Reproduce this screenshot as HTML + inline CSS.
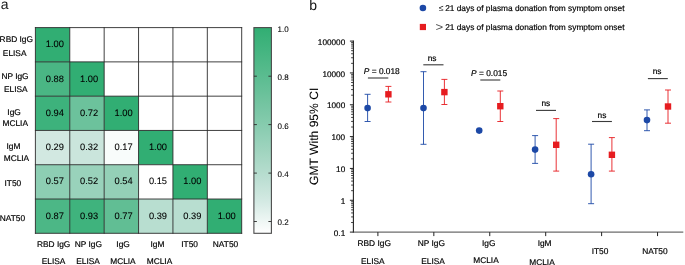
<!DOCTYPE html>
<html lang="en">
<head>
<meta charset="utf-8">
<title>Figure</title>
<style>
html,body{margin:0;padding:0;background:#fff;}
body{width:685px;height:265px;overflow:hidden;}
svg{display:block;font-family:'Liberation Sans', Arial, Helvetica, sans-serif;}
text{stroke:#000;stroke-width:0.18px;stroke-linejoin:round;}
.nst,.nst text{stroke:none;}
.cv text{stroke-width:0.08px;}
.yl{stroke-width:0.05px;}
</style>
</head>
<body>
<svg width="685" height="265" viewBox="0 0 685 265" font-family='"Liberation Sans", Arial, Helvetica, sans-serif' text-rendering="geometricPrecision">
<defs>
<linearGradient id="cb" x1="0" y1="0" x2="0" y2="1">
<stop offset="0.00" stop-color="#31ae73"/>
<stop offset="0.05" stop-color="#3ab179"/>
<stop offset="0.10" stop-color="#42b47f"/>
<stop offset="0.15" stop-color="#4bb785"/>
<stop offset="0.20" stop-color="#54ba8b"/>
<stop offset="0.25" stop-color="#5dbd92"/>
<stop offset="0.30" stop-color="#66c098"/>
<stop offset="0.35" stop-color="#70c39e"/>
<stop offset="0.40" stop-color="#79c6a5"/>
<stop offset="0.45" stop-color="#82caab"/>
<stop offset="0.50" stop-color="#8ccdb2"/>
<stop offset="0.55" stop-color="#96d1b9"/>
<stop offset="0.60" stop-color="#a0d4bf"/>
<stop offset="0.65" stop-color="#aad8c6"/>
<stop offset="0.70" stop-color="#b4dccd"/>
<stop offset="0.75" stop-color="#bfe0d5"/>
<stop offset="0.80" stop-color="#cae5dc"/>
<stop offset="0.85" stop-color="#d5eae4"/>
<stop offset="0.90" stop-color="#e3f1ed"/>
<stop offset="0.95" stop-color="#f1f8f6"/>
<stop offset="1.00" stop-color="#ffffff"/>
</linearGradient>
</defs>
<rect width="685" height="265" fill="#fff"/>
<g id="heatmap">
<rect x="35.40" y="27.60" width="34.38" height="34.28" fill="#31ae73"/>
<rect x="35.40" y="61.88" width="34.38" height="34.28" fill="#4ab684"/>
<rect x="69.78" y="61.88" width="34.38" height="34.28" fill="#31ae73"/>
<rect x="35.40" y="96.17" width="34.38" height="34.28" fill="#3db27c"/>
<rect x="69.78" y="96.17" width="34.38" height="34.28" fill="#6cc29c"/>
<rect x="104.17" y="96.17" width="34.38" height="34.28" fill="#31ae73"/>
<rect x="35.40" y="130.45" width="34.38" height="34.28" fill="#d2e8e1"/>
<rect x="69.78" y="130.45" width="34.38" height="34.28" fill="#cae5dc"/>
<rect x="104.17" y="130.45" width="34.38" height="34.28" fill="#f8fcfb"/>
<rect x="138.55" y="130.45" width="34.38" height="34.28" fill="#31ae73"/>
<rect x="35.40" y="164.73" width="34.38" height="34.28" fill="#8dceb3"/>
<rect x="69.78" y="164.73" width="34.38" height="34.28" fill="#99d2bb"/>
<rect x="104.17" y="164.73" width="34.38" height="34.28" fill="#94d0b7"/>
<rect x="138.55" y="164.73" width="34.38" height="34.28" fill="#ffffff"/>
<rect x="172.93" y="164.73" width="34.38" height="34.28" fill="#31ae73"/>
<rect x="35.40" y="199.02" width="34.38" height="34.28" fill="#4cb786"/>
<rect x="69.78" y="199.02" width="34.38" height="34.28" fill="#3fb37d"/>
<rect x="104.17" y="199.02" width="34.38" height="34.28" fill="#61be94"/>
<rect x="138.55" y="199.02" width="34.38" height="34.28" fill="#b8ded0"/>
<rect x="172.93" y="199.02" width="34.38" height="34.28" fill="#b8ded0"/>
<rect x="207.32" y="199.02" width="34.38" height="34.28" fill="#31ae73"/>
<g stroke="#2b2b2b" stroke-width="0.9" fill="none">
<line x1="35.40" y1="27.15" x2="35.40" y2="233.75"/>
<line x1="34.95" y1="27.60" x2="242.15" y2="27.60"/>
<line x1="69.78" y1="27.15" x2="69.78" y2="233.75"/>
<line x1="34.95" y1="61.88" x2="242.15" y2="61.88"/>
<line x1="104.17" y1="27.15" x2="104.17" y2="233.75"/>
<line x1="34.95" y1="96.17" x2="242.15" y2="96.17"/>
<line x1="138.55" y1="27.15" x2="138.55" y2="233.75"/>
<line x1="34.95" y1="130.45" x2="242.15" y2="130.45"/>
<line x1="172.93" y1="27.15" x2="172.93" y2="233.75"/>
<line x1="34.95" y1="164.73" x2="242.15" y2="164.73"/>
<line x1="207.32" y1="27.15" x2="207.32" y2="233.75"/>
<line x1="34.95" y1="199.02" x2="242.15" y2="199.02"/>
<line x1="241.70" y1="27.15" x2="241.70" y2="233.75"/>
<line x1="34.95" y1="233.30" x2="242.15" y2="233.30"/>
</g>
<g font-size="9.3" text-anchor="middle" fill="#000" class="cv">
<text x="54.79" y="47.24">1.00</text>
<text x="54.79" y="81.53">0.88</text>
<text x="89.17" y="81.53">1.00</text>
<text x="54.79" y="115.81">0.94</text>
<text x="89.17" y="115.81">0.72</text>
<text x="123.56" y="115.81">1.00</text>
<text x="54.79" y="150.09">0.29</text>
<text x="89.17" y="150.09">0.32</text>
<text x="123.56" y="150.09">0.17</text>
<text x="157.94" y="150.09">1.00</text>
<text x="54.79" y="184.38">0.57</text>
<text x="89.17" y="184.38">0.52</text>
<text x="123.56" y="184.38">0.54</text>
<text x="157.94" y="184.38">0.15</text>
<text x="192.32" y="184.38">1.00</text>
<text x="54.79" y="218.66">0.87</text>
<text x="89.17" y="218.66">0.93</text>
<text x="123.56" y="218.66">0.77</text>
<text x="157.94" y="218.66">0.39</text>
<text x="192.32" y="218.66">0.39</text>
<text x="226.71" y="218.66">1.00</text>
</g>
<g font-size="8.35" text-anchor="middle" fill="#000">
<text x="16.3" y="41.9">RBD IgG</text>
<text x="14.65" y="55.8">ELISA</text>
<text x="15.0" y="79.2">NP IgG</text>
<text x="15.75" y="92.2">ELISA</text>
<text x="14.05" y="114.5">IgG</text>
<text x="15.25" y="126.3">MCLIA</text>
<text x="13.4" y="149.0">IgM</text>
<text x="16.45" y="160.9">MCLIA</text>
<text x="12.9" y="186.0">IT50</text>
<text x="12.45" y="220.7">NAT50</text>
<text x="53.65" y="246.7">RBD IgG</text>
<text x="53.5" y="264.2">ELISA</text>
<text x="88.3" y="246.7">NP IgG</text>
<text x="88.0" y="264.2">ELISA</text>
<text x="123.1" y="246.7">IgG</text>
<text x="122.95" y="264.2">MCLIA</text>
<text x="157.4" y="246.7">IgM</text>
<text x="159.5" y="264.2">MCLIA</text>
<text x="189.6" y="246.7">IT50</text>
<text x="225.5" y="246.7">NAT50</text>
</g>
</g>
<g id="colorbar">
<rect x="253.9" y="27.6" width="17.50" height="205.70" fill="url(#cb)" stroke="#4a4a4a" stroke-width="1.1"/>
<g stroke="#2b2b2b" stroke-width="0.9">
<line x1="253.9" y1="76.2" x2="256.9" y2="76.2"/>
<line x1="268.4" y1="76.2" x2="271.4" y2="76.2"/>
<line x1="253.9" y1="124.6" x2="256.9" y2="124.6"/>
<line x1="268.4" y1="124.6" x2="271.4" y2="124.6"/>
<line x1="253.9" y1="173.1" x2="256.9" y2="173.1"/>
<line x1="268.4" y1="173.1" x2="271.4" y2="173.1"/>
<line x1="253.9" y1="221.5" x2="256.9" y2="221.5"/>
<line x1="268.4" y1="221.5" x2="271.4" y2="221.5"/>
</g>
<g font-size="8" fill="#000" class="cv">
<text x="277.6" y="31.6">1.0</text>
<text x="277.6" y="80.1">0.8</text>
<text x="277.6" y="128.5">0.6</text>
<text x="277.6" y="177.0">0.4</text>
<text x="277.6" y="225.4">0.2</text>
</g></g>
<text x="0.8" y="8.9" font-size="14" fill="#111" class="nst">a</text>
<text x="309.3" y="10.4" font-size="14" fill="#111" class="nst">b</text>
<g id="legend">
<circle cx="422.9" cy="8.0" r="3.3" fill="#1c48a6"/>
<rect x="419.8" y="23.9" width="6.2" height="6.2" fill="#e61c20"/>
<g font-size="8.32" fill="#000">
<text x="438.7" y="11.3" class="nst" font-size="8.6">≤</text>
<text x="445.2" y="11.2">21 days of plasma donation from symptom onset</text>
<text transform="translate(435.6,31.1) scale(1.1,1)" font-size="12" class="nst" fill="#000" fill-opacity="0.72">&gt;</text>
<text x="445.2" y="30.0">21 days of plasma donation from symptom onset</text>
</g></g>
<g id="axes" stroke="#222" fill="none">
<line x1="353.4" y1="40.6" x2="353.4" y2="232.6" stroke-width="1.1"/>
<line x1="352.9" y1="232.1" x2="683.3" y2="232.1" stroke-width="0.95" stroke="#3c3c3c"/>
<line x1="349.9" y1="41.10" x2="353.4" y2="41.10" stroke-width="1"/>
<line x1="351.09999999999997" y1="63.35" x2="353.4" y2="63.35" stroke-width="0.85"/>
<line x1="351.09999999999997" y1="57.74" x2="353.4" y2="57.74" stroke-width="0.85"/>
<line x1="351.09999999999997" y1="53.77" x2="353.4" y2="53.77" stroke-width="0.85"/>
<line x1="351.09999999999997" y1="50.68" x2="353.4" y2="50.68" stroke-width="0.85"/>
<line x1="351.09999999999997" y1="48.16" x2="353.4" y2="48.16" stroke-width="0.85"/>
<line x1="351.09999999999997" y1="46.03" x2="353.4" y2="46.03" stroke-width="0.85"/>
<line x1="351.09999999999997" y1="44.18" x2="353.4" y2="44.18" stroke-width="0.85"/>
<line x1="351.09999999999997" y1="42.56" x2="353.4" y2="42.56" stroke-width="0.85"/>
<line x1="349.9" y1="72.93" x2="353.4" y2="72.93" stroke-width="1"/>
<line x1="351.09999999999997" y1="95.18" x2="353.4" y2="95.18" stroke-width="0.85"/>
<line x1="351.09999999999997" y1="89.58" x2="353.4" y2="89.58" stroke-width="0.85"/>
<line x1="351.09999999999997" y1="85.60" x2="353.4" y2="85.60" stroke-width="0.85"/>
<line x1="351.09999999999997" y1="82.52" x2="353.4" y2="82.52" stroke-width="0.85"/>
<line x1="351.09999999999997" y1="80.00" x2="353.4" y2="80.00" stroke-width="0.85"/>
<line x1="351.09999999999997" y1="77.86" x2="353.4" y2="77.86" stroke-width="0.85"/>
<line x1="351.09999999999997" y1="76.02" x2="353.4" y2="76.02" stroke-width="0.85"/>
<line x1="351.09999999999997" y1="74.39" x2="353.4" y2="74.39" stroke-width="0.85"/>
<line x1="349.9" y1="104.77" x2="353.4" y2="104.77" stroke-width="1"/>
<line x1="351.09999999999997" y1="127.02" x2="353.4" y2="127.02" stroke-width="0.85"/>
<line x1="351.09999999999997" y1="121.41" x2="353.4" y2="121.41" stroke-width="0.85"/>
<line x1="351.09999999999997" y1="117.43" x2="353.4" y2="117.43" stroke-width="0.85"/>
<line x1="351.09999999999997" y1="114.35" x2="353.4" y2="114.35" stroke-width="0.85"/>
<line x1="351.09999999999997" y1="111.83" x2="353.4" y2="111.83" stroke-width="0.85"/>
<line x1="351.09999999999997" y1="109.70" x2="353.4" y2="109.70" stroke-width="0.85"/>
<line x1="351.09999999999997" y1="107.85" x2="353.4" y2="107.85" stroke-width="0.85"/>
<line x1="351.09999999999997" y1="106.22" x2="353.4" y2="106.22" stroke-width="0.85"/>
<line x1="349.9" y1="136.60" x2="353.4" y2="136.60" stroke-width="1"/>
<line x1="351.09999999999997" y1="158.85" x2="353.4" y2="158.85" stroke-width="0.85"/>
<line x1="351.09999999999997" y1="153.24" x2="353.4" y2="153.24" stroke-width="0.85"/>
<line x1="351.09999999999997" y1="149.27" x2="353.4" y2="149.27" stroke-width="0.85"/>
<line x1="351.09999999999997" y1="146.18" x2="353.4" y2="146.18" stroke-width="0.85"/>
<line x1="351.09999999999997" y1="143.66" x2="353.4" y2="143.66" stroke-width="0.85"/>
<line x1="351.09999999999997" y1="141.53" x2="353.4" y2="141.53" stroke-width="0.85"/>
<line x1="351.09999999999997" y1="139.68" x2="353.4" y2="139.68" stroke-width="0.85"/>
<line x1="351.09999999999997" y1="138.06" x2="353.4" y2="138.06" stroke-width="0.85"/>
<line x1="349.9" y1="168.43" x2="353.4" y2="168.43" stroke-width="1"/>
<line x1="351.09999999999997" y1="190.68" x2="353.4" y2="190.68" stroke-width="0.85"/>
<line x1="351.09999999999997" y1="185.08" x2="353.4" y2="185.08" stroke-width="0.85"/>
<line x1="351.09999999999997" y1="181.10" x2="353.4" y2="181.10" stroke-width="0.85"/>
<line x1="351.09999999999997" y1="178.02" x2="353.4" y2="178.02" stroke-width="0.85"/>
<line x1="351.09999999999997" y1="175.50" x2="353.4" y2="175.50" stroke-width="0.85"/>
<line x1="351.09999999999997" y1="173.36" x2="353.4" y2="173.36" stroke-width="0.85"/>
<line x1="351.09999999999997" y1="171.52" x2="353.4" y2="171.52" stroke-width="0.85"/>
<line x1="351.09999999999997" y1="169.89" x2="353.4" y2="169.89" stroke-width="0.85"/>
<line x1="349.9" y1="200.27" x2="353.4" y2="200.27" stroke-width="1"/>
<line x1="351.09999999999997" y1="222.52" x2="353.4" y2="222.52" stroke-width="0.85"/>
<line x1="351.09999999999997" y1="216.91" x2="353.4" y2="216.91" stroke-width="0.85"/>
<line x1="351.09999999999997" y1="212.93" x2="353.4" y2="212.93" stroke-width="0.85"/>
<line x1="351.09999999999997" y1="209.85" x2="353.4" y2="209.85" stroke-width="0.85"/>
<line x1="351.09999999999997" y1="207.33" x2="353.4" y2="207.33" stroke-width="0.85"/>
<line x1="351.09999999999997" y1="205.20" x2="353.4" y2="205.20" stroke-width="0.85"/>
<line x1="351.09999999999997" y1="203.35" x2="353.4" y2="203.35" stroke-width="0.85"/>
<line x1="351.09999999999997" y1="201.72" x2="353.4" y2="201.72" stroke-width="0.85"/>
<line x1="349.9" y1="232.10" x2="353.4" y2="232.10" stroke-width="1"/>
<line x1="377.90" y1="232.1" x2="377.90" y2="236.1" stroke-width="1"/>
<line x1="433.83" y1="232.1" x2="433.83" y2="236.1" stroke-width="1"/>
<line x1="489.76" y1="232.1" x2="489.76" y2="236.1" stroke-width="1"/>
<line x1="545.69" y1="232.1" x2="545.69" y2="236.1" stroke-width="1"/>
<line x1="601.62" y1="232.1" x2="601.62" y2="236.1" stroke-width="1"/>
<line x1="657.55" y1="232.1" x2="657.55" y2="236.1" stroke-width="1"/>
</g>
<g font-size="8.2" text-anchor="end" fill="#000">
<text x="345.2" y="44.70">100000</text>
<text x="345.2" y="76.53">10000</text>
<text x="345.2" y="108.37">1000</text>
<text x="345.2" y="140.20">100</text>
<text x="345.2" y="172.03">10</text>
<text x="345.2" y="203.87">1</text>
<text x="345.2" y="235.70">0.1</text>
</g>
<text transform="translate(318.3,136.3) rotate(-90)" text-anchor="middle" font-size="12.1" fill="#000" class="yl">GMT With 95% CI</text>
<g font-size="8.35" text-anchor="middle" fill="#000">
<text x="374.2" y="246.3">RBD IgG</text>
<text x="372.8" y="264.2">ELISA</text>
<text x="431.3" y="246.3">NP IgG</text>
<text x="433.0" y="263.5">ELISA</text>
<text x="488.7" y="246.3">IgG</text>
<text x="486.0" y="263.2">MCLIA</text>
<text x="544.6" y="246.3">IgM</text>
<text x="542.0" y="264.5">MCLIA</text>
<text x="600.0" y="253.6">IT50</text>
<text x="654.9" y="253.6">NAT50</text>
</g>
<g id="data">
<g stroke="#1c48a6" stroke-width="0.9" fill="none" transform="translate(0,0.2)">
<path d="M367.6 94.1V121.3M364.6 94.1H370.6M364.6 121.3H370.6"/>
<path d="M423.5 71.5V144.1M420.5 71.5H426.5M420.5 144.1H426.5"/>
<path d="M535.1 135.4V163.2M532.1 135.4H538.1M532.1 163.2H538.1"/>
<path d="M591.1 144.0V203.5M588.1 144.0H594.1M588.1 203.5H594.1"/>
<path d="M647.0 109.7V130.5M644.0 109.7H650.0M644.0 130.5H650.0"/>
</g>
<g fill="#1c48a6" transform="translate(0,0.2)">
<circle cx="367.6" cy="107.9" r="3.3"/>
<circle cx="423.5" cy="107.9" r="3.3"/>
<circle cx="479.2" cy="130.4" r="3.3"/>
<circle cx="535.1" cy="149.4" r="3.3"/>
<circle cx="591.1" cy="174.0" r="3.3"/>
<circle cx="647.0" cy="119.9" r="3.3"/>
</g>
<g stroke="#e61c20" stroke-width="0.9" fill="none" transform="translate(0,0.2)">
<path d="M388.4 86.2V101.8M385.4 86.2H391.4M385.4 101.8H391.4"/>
<path d="M444.4 79.2V104.3M441.4 79.2H447.4M441.4 104.3H447.4"/>
<path d="M500.3 90.8V121.3M497.3 90.8H503.3M497.3 121.3H503.3"/>
<path d="M556.2 118.4V170.9M553.2 118.4H559.2M553.2 170.9H559.2"/>
<path d="M611.9 137.4V170.9M608.9 137.4H614.9M608.9 170.9H614.9"/>
<path d="M668.0 89.8V123.0M665.0 89.8H671.0M665.0 123.0H671.0"/>
</g>
<g fill="#e61c20" transform="translate(0,0.2)">
<rect x="385.2" y="90.9" width="6.4" height="6.4"/>
<rect x="441.2" y="88.7" width="6.4" height="6.4"/>
<rect x="497.1" y="102.8" width="6.4" height="6.4"/>
<rect x="553.0" y="141.4" width="6.4" height="6.4"/>
<rect x="608.7" y="151.4" width="6.4" height="6.4"/>
<rect x="664.8" y="103.1" width="6.4" height="6.4"/>
</g>
</g>
<g id="sig" font-size="8.35" fill="#000">
<text x="363.8" y="74.3"><tspan font-style="italic">P</tspan> = 0.018</text>
<line x1="367.9" y1="78.0" x2="388.3" y2="78.0" stroke="#3a3a3a" stroke-width="1.1"/>
<text x="432.1" y="61.4" text-anchor="middle">ns</text>
<line x1="423.3" y1="64.8" x2="443.5" y2="64.8" stroke="#3a3a3a" stroke-width="1.1"/>
<text x="471.1" y="75.9"><tspan font-style="italic">P</tspan> = 0.015</text>
<line x1="480.3" y1="80.0" x2="500.3" y2="80.0" stroke="#3a3a3a" stroke-width="1.1"/>
<text x="545.8" y="106.2" text-anchor="middle">ns</text>
<line x1="536.0" y1="110.4" x2="556.0" y2="110.4" stroke="#3a3a3a" stroke-width="1.1"/>
<text x="602.0" y="117.7" text-anchor="middle">ns</text>
<line x1="592.0" y1="121.5" x2="611.9" y2="121.5" stroke="#3a3a3a" stroke-width="1.1"/>
<text x="657.1" y="74.0" text-anchor="middle">ns</text>
<line x1="647.9" y1="78.6" x2="667.8" y2="78.6" stroke="#3a3a3a" stroke-width="1.1"/>
</g>
</svg>
</body>
</html>
